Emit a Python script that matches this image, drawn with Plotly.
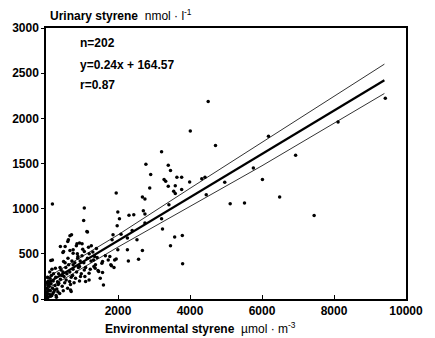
import plotly.graph_objects as go

# Scatter data: environmental styrene (µmol/m3) vs urinary styrene (nmol/l)
env_styrene = [
    4505, 4008, 4708, 3210, 2775, 3396, 3458, 2908, 3280, 3325, 3636, 3768, 3990, 4327, 4416,
    3591, 3396, 2881, 3768, 3547, 3591, 4965, 4451, 5116, 5514, 6490, 7448, 6012, 6180, 6934,
    8113, 9425, 5760, 2678, 2748, 2704, 2748, 2305, 2438, 1995, 2040, 1977, 2748, 3236, 3210,
    3574, 3786, 3795, 3458, 2261, 2394, 2527, 2678, 2571, 2288, 1995, 1950, 1818, 1773, 1596,
    1445, 1374, 1571, 1950, 1064, 1046, 1135, 178, 3414, 2261, 1862, 2084, 1907, 1552, 1800,
    1889, 1570, 1259, 1197, 958, 887, 754, 621, 665, 843, 931, 399, 488, 683, 178,
    1152, 709, 604, 532, 1002, 860, 1064, 1180, 470, 665, 754, 133, 488, 754, 931,
    1064, 1197, 1330, 1463, 1507, 1729, 1835, 443, 355, 1321, 1366, 1100, 656, 700,
    20, 40, 60, 80, 100, 30, 50, 90, 120, 140, 160, 180, 200, 220, 60,
    110, 150, 250, 270, 300, 320, 350, 380, 400, 420, 450, 470, 500, 520, 550,
    580, 600, 630, 660, 700, 720, 750, 780, 800, 850, 880, 900, 950, 980, 1000,
    1050, 1100, 1150, 1200, 1250, 1300, 1350, 10, 30, 70, 130, 190, 240, 280, 330,
    15, 45, 75, 105, 135, 165, 210, 260, 290, 340, 390, 440, 480, 530, 560,
    610, 680, 740, 820, 870, 930, 1020, 1080, 1230, 1400, 1420, 1650,
]
urinary_styrene = [
    2185, 1859, 1700, 1630, 1492, 1481, 1422, 1378, 1322, 1304, 1348, 1348, 1296, 1330, 1348,
    1255, 1248, 1230, 1211, 1192, 1167, 1293, 1155, 1055, 1063, 1130, 925, 1322, 1803, 1592,
    1959, 2222, 1450, 1130, 1108, 978, 941, 926, 933, 963, 889, 811, 841, 774, 889,
    685, 704, 389, 589, 674, 759, 655, 537, 441, 422, 544, 444, 367, 470, 156,
    315, 378, 415, 1174, 1008, 870, 748, 1052, 1044, 544, 711, 718, 433, 396, 378,
    348, 292, 589, 211, 248, 470, 544, 655, 700, 589, 619, 581, 526, 100, 433,
    741, 711, 637, 581, 611, 611, 526, 574, 515, 537, 507, 426, 415, 378, 359,
    322, 285, 359, 304, 230, 433, 655, 267, 174, 433, 341, 193, 193, 82,
    30, 60, 20, 100, 50, 120, 150, 140, 90, 170, 40, 120, 200, 80, 200,
    230, 260, 150, 240, 110, 190, 280, 60, 220, 320, 140, 300, 250, 180, 350,
    280, 120, 380, 300, 240, 420, 330, 180, 400, 300, 450, 350, 420, 280, 480,
    400, 350, 450, 500, 420, 520, 470, 80, 10, 90, 30, 60, 100, 40, 80,
    180, 240, 170, 300, 200, 330, 280, 340, 20, 160, 350, 260, 90, 400, 210,
    450, 160, 260, 230, 500, 200, 550, 250, 330, 560, 460, 480,
]

# Regression line y = 0.24x + 164.57 and its bands (end/anchor values)
reg_x = [0, 9400]
reg_y = [165, 2421]
band_x = [0, 2000, 4000, 6000, 9400]
band_upper = [230, 710, 1225, 1735, 2600]
band_lower = [105, 575, 1025, 1475, 2275]

x_ticks = [2000, 4000, 6000, 8000, 10000]
y_ticks = [0, 500, 1000, 1500, 2000, 2500, 3000]

FONT = "Liberation Sans"

fig = go.Figure()
fig.add_trace(go.Scatter(x=band_x, y=band_upper, mode="lines",
                         line=dict(color="#333333", width=1), showlegend=False))
fig.add_trace(go.Scatter(x=band_x, y=band_lower, mode="lines",
                         line=dict(color="#333333", width=1), showlegend=False))
fig.add_trace(go.Scatter(x=reg_x, y=reg_y, mode="lines",
                         line=dict(color="black", width=2.2), showlegend=False))
fig.add_trace(go.Scatter(x=env_styrene, y=urinary_styrene, mode="markers",
                         marker=dict(color="black", size=3.5), showlegend=False))

fig.update_layout(
    width=435, height=338,
    margin=dict(l=40, r=19, t=28, b=39),
    paper_bgcolor="white", plot_bgcolor="white",
    font=dict(family=FONT, color="black"),
    xaxis=dict(range=[0, 10000], tickvals=x_ticks, ticktext=[str(v) for v in x_ticks],
               showline=True, linecolor="black", linewidth=1.5, mirror=True,
               ticks="inside", ticklen=4, tickcolor="black", showgrid=False, zeroline=False,
               tickfont=dict(family=FONT, size=12, weight="bold")),
    yaxis=dict(range=[0, 3000], tickvals=y_ticks, ticktext=[str(v) for v in y_ticks],
               showline=True, linecolor="black", linewidth=1.5, mirror=True,
               ticks="outside", ticklen=3, tickcolor="black", showgrid=False, zeroline=False,
               tickfont=dict(family=FONT, size=12, weight="bold")),
)

fig.add_annotation(xref="paper", yref="paper", x=0.005, y=1.048, xanchor="left", yanchor="middle",
                   text="<b>Urinary styrene</b>  nmol · l<sup>-1</sup>", showarrow=False,
                   font=dict(family=FONT, size=12, color="black"))
fig.add_annotation(xref="paper", yref="paper", x=0.43, y=-0.107, xanchor="center", yanchor="middle",
                   text="<b>Environmental styrene</b>  µmol · m<sup>-3</sup>", showarrow=False,
                   font=dict(family=FONT, size=12, color="black"))
for txt, yy in [("n=202", 0.945), ("y=0.24x + 164.57", 0.863), ("r=0.87", 0.79)]:
    fig.add_annotation(xref="paper", yref="paper", x=0.088, y=yy, xanchor="left", yanchor="middle",
                       text=f"<b>{txt}</b>", showarrow=False,
                       font=dict(family=FONT, size=12, color="black"))

fig.write_html("out.html")
